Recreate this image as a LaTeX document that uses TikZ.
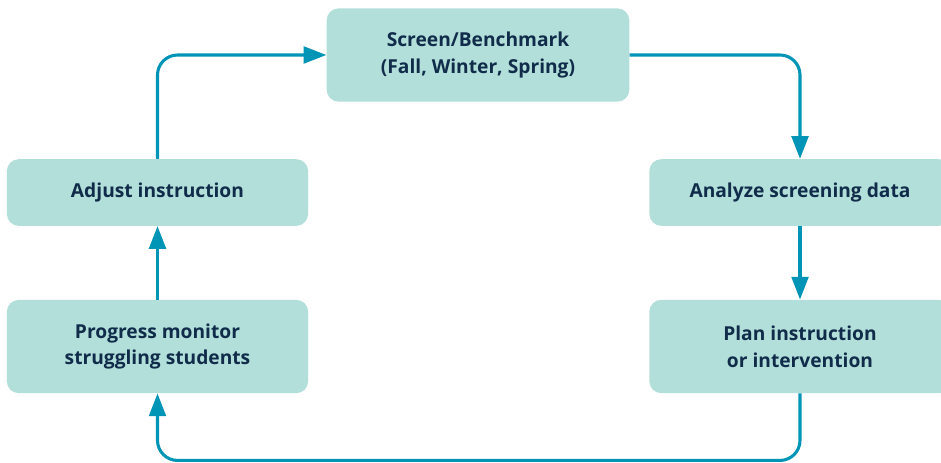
\documentclass[tikz,border=0pt]{standalone}
\usepackage{fontspec}
\setmainfont{Open Sans}
\usetikzlibrary{arrows.meta}

\definecolor{boxfill}{RGB}{178,223,217}
\definecolor{flowline}{RGB}{0,149,182}
\definecolor{labeltext}{RGB}{16,44,74}

\tikzset{
    stage/.style={fill=boxfill, rounded corners=9pt, inner sep=0pt, align=center,
        text=labeltext, font=\fontsize{14.4}{20}\selectfont\bfseries},
    shortstage/.style={stage, minimum width=226pt, minimum height=50pt},
    tallstage/.style={stage, minimum width=226pt, minimum height=70pt},
    flow/.style={draw=flowline, line width=2.3pt, rounded corners=15pt,
        -{Triangle[length=17pt,width=12.5pt]}}
}

\begin{document}
\begin{tikzpicture}[x=0.75pt,y=0.75pt,yscale=-1,xscale=1]
        \useasboundingbox (0,0) rectangle (941,463);

        % Stages
        \node [stage, minimum width=227pt, minimum height=70pt] (screen) at (478,55) {Screen/Benchmark\\(Fall, Winter, Spring)};
        \node [shortstage] (analyze) at (800,192.5) {Analyze screening data};
        \node [tallstage] (plan) at (800,346.5) {Plan instruction\\or intervention};
        \node [tallstage] (progress) at (157.5,346.5) {Progress monitor\\struggling students};
        \node [shortstage] (adjust) at (157.5,192.5) {Adjust instruction};

        % Cycle
        \draw [flow] (screen.east) -| (analyze.north);
        \draw [flow] (analyze.south) -- (plan.north);
        \draw [flow] (plan.south) -- ++(0,67) -| (progress.south);
        \draw [flow] (progress.north) -- (adjust.south);
        \draw [flow] (adjust.north) |- (screen.west);

\end{tikzpicture}
\end{document}
